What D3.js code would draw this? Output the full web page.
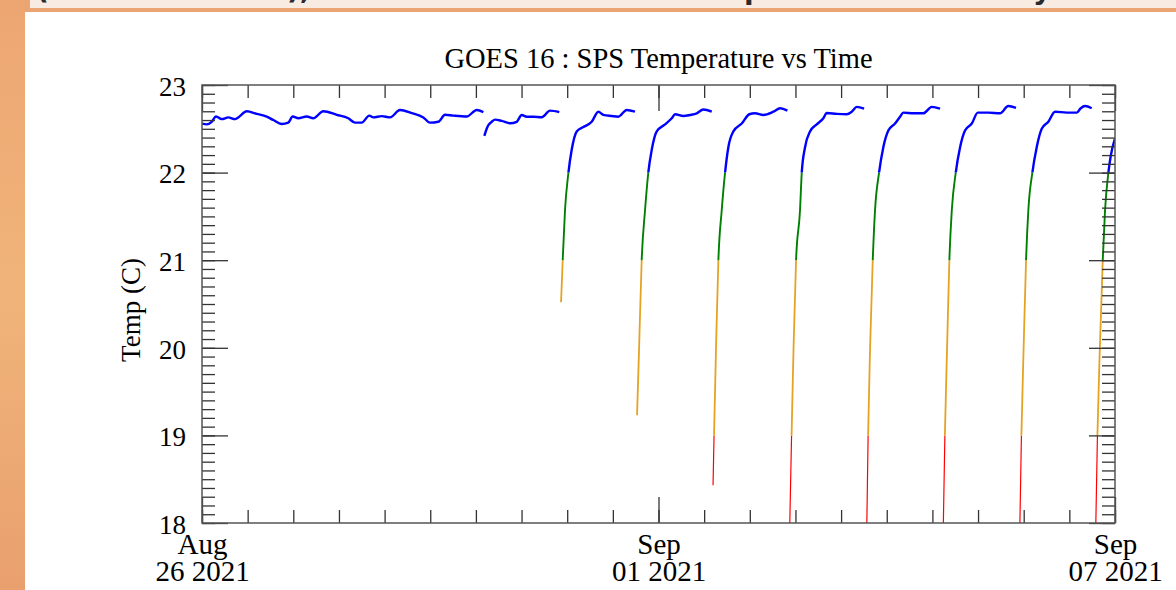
<!DOCTYPE html>
<html><head><meta charset="utf-8">
<script src="https://cdn.jsdelivr.net/npm/d3@7"></script>
<style>
html,body{margin:0;padding:0;background:#fff;}
svg{display:block;}
</style></head>
<body>
<script>
// ---- data (days since 2021-08-26 00:00 UTC, temperature in C) ----
const seg1T = [0.0,0.062,0.127,0.184,0.259,0.346,0.434,0.477,0.588,0.719,0.850,0.937,1.048,1.134,1.192,1.266,1.376,1.463,1.594,1.771,1.923,2.011,2.099,2.199,2.252,2.362,2.471,2.603,2.756,2.909,2.997,3.106,3.194,3.303,3.479,3.611,3.698];
const seg1V = [22.56,22.55,22.58,22.64,22.61,22.63,22.61,22.63,22.70,22.67,22.64,22.60,22.555,22.57,22.64,22.62,22.64,22.62,22.70,22.66,22.62,22.57,22.57,22.65,22.63,22.645,22.63,22.715,22.68,22.63,22.57,22.58,22.66,22.65,22.64,22.715,22.69];
const seg2T = [3.711,3.742,3.763,3.808,3.851,3.939,4.048,4.136,4.202,4.268,4.355,4.465,4.574,4.696];
const seg2V = [22.42,22.50,22.54,22.58,22.605,22.59,22.563,22.58,22.658,22.638,22.638,22.631,22.707,22.69];
const seg3T = [4.719,4.741,4.771,4.815,4.859,4.925,5.012,5.122,5.209,5.275,5.385,5.472,5.582,5.691];
const seg3V = [20.52,21.0,21.57,21.99,22.26,22.47,22.52,22.58,22.695,22.66,22.646,22.638,22.715,22.695];
const seg4T = [5.718,5.745,5.779,5.823,5.866,5.911,5.977,6.086,6.174,6.218,6.327,6.415,6.503,6.590,6.700];
const seg4V = [19.23,20.0,21.0,21.57,22.0,22.26,22.47,22.55,22.62,22.666,22.646,22.658,22.677,22.72,22.695];
const seg5T = [6.717,6.730,6.756,6.787,6.831,6.875,6.918,6.984,7.094,7.194,7.269,7.378,7.510,7.598,7.694];
const seg5V = [18.43,19.0,20.0,21.0,21.57,22.0,22.29,22.47,22.56,22.666,22.677,22.658,22.695,22.735,22.707];
const seg6T = [7.721,7.749,7.775,7.808,7.860,7.883,7.926,7.992,8.080,8.167,8.211,8.343,8.474,8.540,8.606,8.702];
const seg6V = [17.8,19.0,20.0,21.0,21.57,22.0,22.29,22.47,22.55,22.62,22.68,22.67,22.666,22.695,22.75,22.73];
const seg7T = [8.735,8.755,8.781,8.816,8.846,8.899,8.955,9.021,9.109,9.175,9.218,9.350,9.481,9.592,9.701];
const seg7V = [17.8,19.0,20.0,21.0,21.57,22.0,22.29,22.48,22.56,22.638,22.685,22.677,22.677,22.75,22.73];
const seg8T = [9.740,9.764,9.793,9.823,9.855,9.907,9.964,10.029,10.118,10.196,10.336,10.489,10.598,10.699];
const seg8V = [17.8,19.0,20.0,21.0,21.57,22.0,22.29,22.48,22.56,22.685,22.685,22.677,22.76,22.74];
const seg9T = [10.746,10.770,10.799,10.831,10.861,10.914,10.971,11.037,11.124,11.212,11.366,11.497,11.550,11.606,11.694];
const seg9V = [17.8,19.0,20.0,21.0,21.57,22.0,22.29,22.50,22.58,22.695,22.685,22.685,22.735,22.76,22.735];
const seg10T = [11.744,11.769,11.801,11.839,11.869,11.913,11.944,12.0];
const seg10V = [17.8,19.0,20.0,21.0,21.57,22.0,22.19,22.39];

const segments = [[seg1T,seg1V],[seg2T,seg2V],[seg3T,seg3V],[seg4T,seg4V],[seg5T,seg5V],
                  [seg6T,seg6V],[seg7T,seg7V],[seg8T,seg8V],[seg9T,seg9V],[seg10T,seg10V]];

const yTicks = [18,19,20,21,22,23];
const xMajorDates = ["2021-08-26","2021-09-01","2021-09-07"];
const xMajorLabels = [["Aug","26 2021"],["Sep","01 2021"],["Sep","07 2021"]];
const thresholds = [19,21,22];
const bandColors = ["#ff0000","#e5a323","#008000","#0000ff"];
const title = "GOES 16 : SPS Temperature vs Time";
const yTitle = "Temp (C)";

// ---- layout ----
const W = 1176, H = 590;
const L = 202, R = 1115, T = 85, B = 523;
const startMs = Date.UTC(2021,7,26);
const toDate = d => new Date(startMs + d*864e5);

const svg = d3.select("body").append("svg").attr("width",W).attr("height",H);
const defs = svg.append("defs");

// page background
svg.append("rect").attr("width",W).attr("height",H).attr("fill","#eba574");
const bg = defs.append("linearGradient").attr("id","lg").attr("x1",0).attr("x2",0).attr("y1",0).attr("y2",1);
bg.append("stop").attr("offset","0%").attr("stop-color","#eda672");
bg.append("stop").attr("offset","50%").attr("stop-color","#f0b47a");
bg.append("stop").attr("offset","100%").attr("stop-color","#e9a06e");
svg.append("rect").attr("x",0).attr("y",0).attr("width",25).attr("height",H).attr("fill","url(#lg)");
svg.append("rect").attr("x",30).attr("y",0).attr("width",W-30).attr("height",8).attr("fill","#f8ebe1");
svg.append("rect").attr("x",25).attr("y",12).attr("width",W-25).attr("height",H-12).attr("fill","#ffffff");

// cut-off heading fragments (page heading above the chart, mostly scrolled out of view)
const fclip = defs.append("clipPath").attr("id","fclip");
fclip.append("rect").attr("x",30).attr("y",0).attr("width",W-30).attr("height",8);
const frag = svg.append("g").attr("font-family","'DejaVu Sans',sans-serif").attr("font-weight","bold")
  .attr("font-size",28).attr("fill","#2a2a2a").attr("clip-path","url(#fclip)");
[["(",36],["),",287],["p",744],["y",1033]].forEach(([s,xx])=>{
  frag.append("text").attr("x",xx).attr("y",-1).text(s);
});

// scales
const x = d3.scaleUtc().domain([toDate(0), toDate(12)]).range([L,R]);
const y = d3.scaleLinear().domain([18,23]).range([B,T]);

// bands for colouring by value
const bandEdges = [18].concat(thresholds).concat([23]);
const bandWidths = [1.2,1.8,1.9,2.4];
bandColors.forEach((c,i)=>{
  const lo = bandEdges[i], hi = bandEdges[i+1];
  defs.append("clipPath").attr("id","band"+i).append("rect")
    .attr("x",L).attr("width",R-L)
    .attr("y",y(hi)).attr("height",y(lo)-y(hi));
});

const line = d3.line().x(d=>x(toDate(d[0]))).y(d=>y(d[1])).curve(d3.curveMonotoneX);
const series = segments.map(([t,v]) => t.map((d,i)=>[d,v[i]]));

bandColors.forEach((c,i)=>{
  const g = svg.append("g").attr("clip-path",`url(#band${i})`);
  g.selectAll("path").data(series).join("path")
    .attr("d",line).attr("fill","none").attr("stroke",c)
    .attr("stroke-width",bandWidths[i]).attr("stroke-linejoin","round");
});

// axes
const minorDays = d3.range(0,12.0001,0.6).map(toDate);
const majorX = xMajorDates.map(s=>new Date(s+"T00:00:00Z"));
const minorY = d3.range(180,231,1).map(v=>v/10);
const axStroke = "#333";

function styleAxis(g){
  g.select(".domain").remove();
  g.selectAll(".tick line").attr("stroke",axStroke).attr("stroke-width",1.3);
}
// bottom
svg.append("g").attr("transform",`translate(0,${B})`)
  .call(d3.axisBottom(x).tickValues(minorDays).tickSize(-13).tickFormat("")).call(styleAxis);
svg.append("g").attr("transform",`translate(0,${B})`)
  .call(d3.axisBottom(x).tickValues(majorX).tickSize(-26).tickFormat("")).call(styleAxis);
// top
svg.append("g").attr("transform",`translate(0,${T})`)
  .call(d3.axisTop(x).tickValues(minorDays).tickSize(-13).tickFormat("")).call(styleAxis);
svg.append("g").attr("transform",`translate(0,${T})`)
  .call(d3.axisTop(x).tickValues(majorX).tickSize(-26).tickFormat("")).call(styleAxis);
// left
svg.append("g").attr("transform",`translate(${L},0)`)
  .call(d3.axisLeft(y).tickValues(minorY).tickSize(-13).tickFormat("")).call(styleAxis);
svg.append("g").attr("transform",`translate(${L},0)`)
  .call(d3.axisLeft(y).tickValues(yTicks).tickSize(-26).tickFormat("")).call(styleAxis);
// right
svg.append("g").attr("transform",`translate(${R},0)`)
  .call(d3.axisRight(y).tickValues(minorY).tickSize(-13).tickFormat("")).call(styleAxis);
svg.append("g").attr("transform",`translate(${R},0)`)
  .call(d3.axisRight(y).tickValues(yTicks).tickSize(-26).tickFormat("")).call(styleAxis);

// frame
svg.append("rect").attr("x",L).attr("y",T).attr("width",R-L).attr("height",B-T)
  .attr("fill","none").attr("stroke","#555").attr("stroke-width",1.5);

const serif = "'Liberation Serif','Times New Roman',serif";
// y labels
const yl = svg.append("g").attr("transform",`translate(${L},0)`)
  .call(d3.axisLeft(y).tickValues(yTicks).tickSize(0).tickPadding(16).tickFormat(d3.format("d")));
yl.select(".domain").remove();
yl.selectAll("text").attr("font-family",serif).attr("font-size",27).attr("fill","#000").attr("dy","0.38em");

// x labels
const xl = svg.append("g").attr("transform",`translate(0,${B})`)
  .call(d3.axisBottom(x).tickValues(majorX).tickSize(0).tickFormat(""));
xl.select(".domain").remove();
xl.selectAll(".tick").each(function(d,i){
  const t = d3.select(this).select("text").attr("y",null).attr("dy",null)
    .attr("font-family",serif).attr("font-size",29).attr("fill","#000").attr("text-anchor","middle");
  t.append("tspan").attr("x",0).attr("y",31).text(xMajorLabels[i][0]);
  t.append("tspan").attr("x",0).attr("y",58).text(xMajorLabels[i][1]);
});

// titles
svg.append("text").attr("x",(L+R)/2).attr("y",68).attr("text-anchor","middle")
  .attr("font-family",serif).attr("font-size",28.5).attr("fill","#000").text(title);
svg.append("text").attr("transform",`translate(140,${(T+B)/2+6}) rotate(-90)`).attr("text-anchor","middle")
  .attr("font-family",serif).attr("font-size",27).attr("fill","#000").text(yTitle);
</script>
</body></html>
